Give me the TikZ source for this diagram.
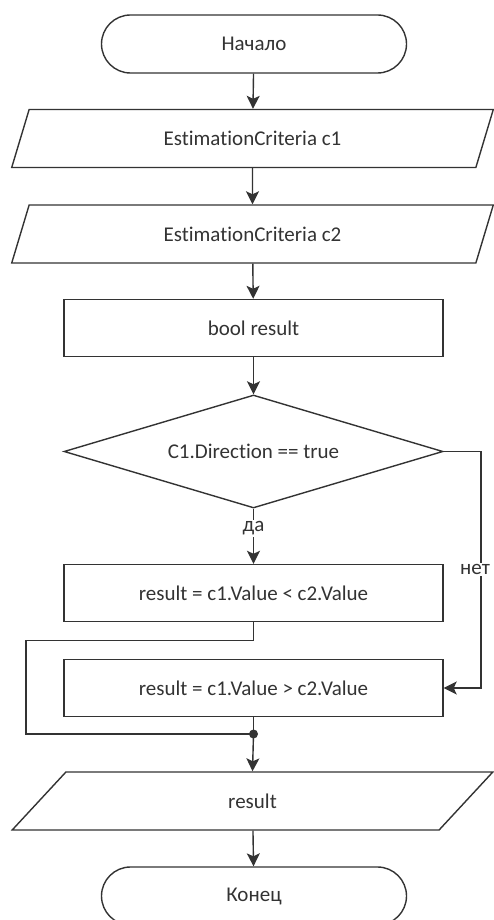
\documentclass[tikz,border=0pt]{standalone}
\usepackage{fontspec}
\setmainfont{Carlito}[Ligatures=NoCommon]
\usetikzlibrary{shapes.geometric,arrows.meta}

\definecolor{inkgray}{HTML}{333333}

\tikzset{
  base/.style={draw=inkgray, line width=1.4pt, text=inkgray, inner sep=0pt,
    font=\fontsize{21}{25}\selectfont},
  term/.style={base, rectangle, rounded corners=29pt, minimum width=305pt, minimum height=58pt},
  iobox/.style={base, trapezium, trapezium left angle=64.6, trapezium right angle=115.4,
    trapezium stretches=true, minimum width=483pt, minimum height=58pt},
  procbox/.style={base, rectangle, minimum width=379pt, minimum height=57pt},
  condbox/.style={base, diamond, shape aspect=3.35, minimum width=379pt, minimum height=113pt},
  line/.style={draw=inkgray, line width=1.4pt},
  arr/.style={line, -{Stealth[length=13pt,width=13pt,inset=3pt]}},
  lbl/.style={fill=white, text=inkgray, inner sep=1.5pt, font=\fontsize{21}{25}\selectfont}
}

\begin{document}
\begin{tikzpicture}[x=1pt, y=-1pt]
  % 画布：494 x 920
  \useasboundingbox (0,0) rectangle (494,920);

  % 1. 节点（自上而下）
  \node[term]    (start)  at (254,44)    {Начало};
  \node[iobox]   (inA)    at (252.5,138.5) {EstimationCriteria c1};
  \node[iobox]   (inB)    at (252.5,234) {EstimationCriteria c2};
  \node[procbox] (decl)   at (253.5,328) {bool result};
  \node[condbox] (cond)   at (253.5,451.5) {C1.Direction == true};
  \node[procbox] (yesbox) at (253.5,593) {result = c1.Value < c2.Value};
  \node[procbox] (nobox)  at (253.5,688) {result = c1.Value > c2.Value};
  \node[iobox]   (out)    at (252.5,801) {result};
  \node[term]    (stop)   at (254,896)   {Конец};

  % 2. 辅助点
  \coordinate (nocorner) at (481,451.5);
  \coordinate (loopL)    at (26,734);
  \coordinate (join)     at (253.5,734);

  % 3. 连线
  \draw[arr] (start) -- (inA);
  \draw[arr] (inA) -- (inB);
  \draw[arr] (inB) -- (decl);
  \draw[arr] (decl) -- (cond);
  \draw[arr] (cond.south) -- node[lbl, pos=0.36] {да} (yesbox.north);
  \draw[arr] (cond.east) -- (nocorner) |- node[lbl, pos=0.25, xshift=-6pt] {нет} (nobox.east);

  % 分支汇合
  \draw[line] (yesbox.south) -- ++(0,18) -| (loopL) -- (join);
  \draw[line] (nobox.south) -- (join);
  \fill[inkgray] (join) circle (4.5pt);

  \draw[arr] (join) -- (out.north);
  \draw[arr] (out) -- (stop);

\end{tikzpicture}
\end{document}
